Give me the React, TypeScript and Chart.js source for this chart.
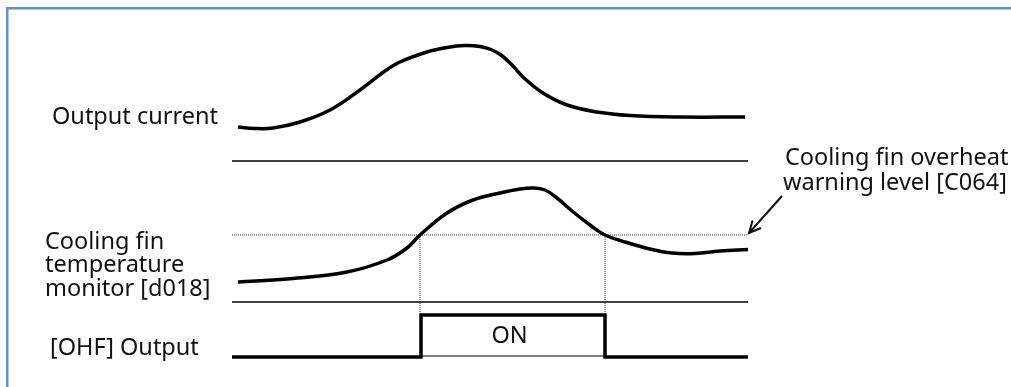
import React, { useEffect, useRef } from "react";
import { Chart, registerables } from "chart.js";

Chart.register(...registerables);

// Time axis (horizontal position of the diagram) and signal levels (vertical position)
const currentT = [238, 255, 273, 300, 330, 360, 385, 400, 427, 447, 465, 480, 491, 501, 512, 523, 543, 567, 597, 630, 680, 745];
const currentV = [127, 128.5, 128, 122, 110, 90, 71, 62, 52, 47.5, 45.5, 46.5, 49.5, 55, 65, 77, 93, 105, 112, 115.5, 117, 117];

const tempT = [238, 287, 347, 387, 407, 420, 447, 473, 500, 520, 533, 545, 557, 572, 590, 605, 625, 650, 672, 695, 720, 748];
const tempV = [282, 279, 272, 260, 248, 235, 213, 200, 193, 189, 188, 190, 198, 211, 225, 235, 242, 249, 253, 253.5, 251, 249.5];

const ohfT = [232, 421, 421, 605, 605, 748];
const ohfV = [357, 357, 315, 315, 357, 357];

const axisStart = 232;
const axisEnd = 748;
const sep1Level = 161;
const sep2Level = 302;
const warnLevel = 235;
const onLevel = 315;
const offLevel = 356;
const crossT = [420, 605];

const labels = [
  { text: "Output current", x: 52, y: 117 },
  { text: "Cooling fin overheat", x: 785, y: 158 },
  { text: "warning level [C064]", x: 783, y: 183 },
  { text: "Cooling fin", x: 45, y: 242 },
  { text: "temperature", x: 45, y: 265 },
  { text: "monitor [d018]", x: 45, y: 289 },
  { text: "[OHF] Output", x: 50, y: 348 },
];

const pts = (t: number[], v: number[]) => t.map((x, i) => ({ x, y: v[i] }));

export default function App() {
  const ref = useRef<HTMLCanvasElement>(null);
  useEffect(() => {
    if (!ref.current) return;
    const font = '23.5px "Noto Sans", sans-serif';
    const deco = {
      id: "deco",
      beforeDraw(chart: any) {
        const ctx = chart.ctx;
        ctx.save();
        ctx.fillStyle = "#fff";
        ctx.fillRect(0, 0, chart.width, chart.height);
        ctx.strokeStyle = "#5f8fd8";
        ctx.lineWidth = 2.5;
        ctx.strokeRect(7.25, 8.25, chart.width + 20, chart.height + 20);
        ctx.restore();
      },
      afterDraw(chart: any) {
        const ctx = chart.ctx;
        const xs = chart.scales.x;
        const ys = chart.scales.y;
        ctx.save();
        ctx.fillStyle = "#111";
        ctx.font = font;
        ctx.textBaseline = "middle";
        ctx.textAlign = "left";
        for (const l of labels) ctx.fillText(l.text, l.x, l.y);
        ctx.textAlign = "center";
        ctx.fillText("ON", xs.getPixelForValue((crossT[0] + crossT[1]) / 2 - 3), ys.getPixelForValue(336));
        // arrow
        const x0 = xs.getPixelForValue(782), y0 = ys.getPixelForValue(196);
        const x1 = xs.getPixelForValue(749), y1 = ys.getPixelForValue(233);
        ctx.strokeStyle = "#111";
        ctx.lineWidth = 2;
        ctx.beginPath();
        ctx.moveTo(x0, y0);
        ctx.lineTo(x1, y1);
        const a = Math.atan2(y1 - y0, x1 - x0);
        const len = 13;
        ctx.moveTo(x1 - len * Math.cos(a - 0.45), y1 - len * Math.sin(a - 0.45));
        ctx.lineTo(x1, y1);
        ctx.lineTo(x1 - len * Math.cos(a + 0.45), y1 - len * Math.sin(a + 0.45));
        ctx.stroke();
        ctx.restore();
      },
    };
    const thick = { borderColor: "#000", pointRadius: 0, showLine: true, fill: false, clip: false as any };
    const chart = new Chart(ref.current, {
      type: "scatter",
      data: {
        datasets: [
          { ...thick, data: pts(currentT, currentV), borderWidth: 3.5, tension: 0.4 } as any,
          { ...thick, data: pts(tempT, tempV), borderWidth: 3.5, tension: 0.4 } as any,
          { ...thick, data: pts([axisStart, axisEnd], [sep1Level, sep1Level]), borderWidth: 1.5 },
          { ...thick, data: pts([axisStart, axisEnd], [sep2Level, sep2Level]), borderWidth: 1.5 },
          { ...thick, data: pts([axisStart, axisEnd], [warnLevel, warnLevel]), borderWidth: 1, borderDash: [1, 1], borderColor: "#333" },
          { ...thick, data: pts([crossT[0], crossT[0]], [warnLevel, onLevel]), borderWidth: 1, borderDash: [1, 1], borderColor: "#333" },
          { ...thick, data: pts([crossT[1], crossT[1]], [warnLevel, onLevel]), borderWidth: 1, borderDash: [1, 1], borderColor: "#333" },
          { ...thick, data: pts([crossT[0], crossT[1]], [offLevel, offLevel]), borderWidth: 1.2 },
          { ...thick, data: pts(ohfT, ohfV), borderWidth: 3.5, tension: 0 },
        ],
      },
      options: {
        animation: false,
        responsive: false,
        maintainAspectRatio: false,
        layout: { padding: 0 },
        plugins: { legend: { display: false }, tooltip: { enabled: false } },
        scales: {
          x: { type: "linear", min: 0, max: 1011, display: false },
          y: { type: "linear", min: 0, max: 387, reverse: true, display: false },
        },
      },
      plugins: [deco],
    });
    return () => chart.destroy();
  }, []);
  return (
    <div style={{ position: "fixed", left: 0, top: 0, width: 1011, height: 387 }}>
      <canvas ref={ref} width={1011} height={387} style={{ display: "block" }} />
    </div>
  );
}
